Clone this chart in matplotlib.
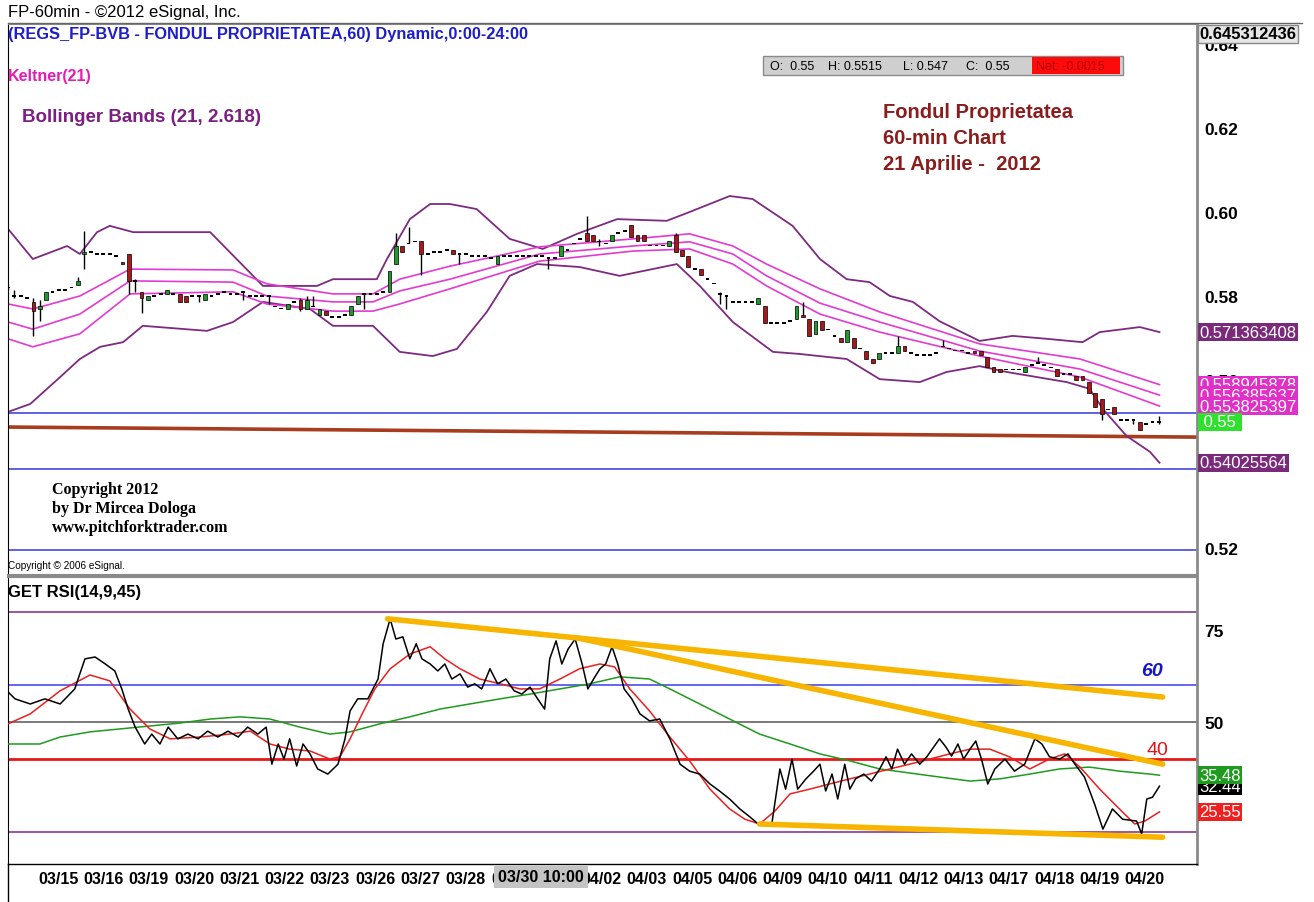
import numpy as np
import matplotlib
matplotlib.use('Agg')
import matplotlib.pyplot as plt
from matplotlib.patches import Rectangle
from matplotlib.lines import Line2D

plt.rcParams['font.family'] = ['Liberation Sans', 'DejaVu Sans']

# ---- hourly candles (bar 0 = 03/14 afternoon ... bar 181 = 04/20 close)
opens = [0.582, 0.580, 0.580, 0.5795, 0.5785, 0.577, 0.579, 0.581, 0.5815, 0.5815,
         0.582, 0.5825, 0.590, 0.5905, 0.590, 0.590, 0.590, 0.5895, 0.588, 0.590,
         0.5835, 0.581, 0.579, 0.580, 0.5805, 0.5805, 0.5805, 0.5805, 0.580, 0.580,
         0.580, 0.579, 0.580, 0.5805, 0.581, 0.5805, 0.5805, 0.581, 0.580, 0.580,
         0.580, 0.580, 0.5775, 0.577, 0.577, 0.5785, 0.579, 0.577, 0.5775, 0.5755,
         0.5765, 0.575, 0.575, 0.5755, 0.5755, 0.578, 0.5805, 0.5805, 0.5805, 0.581,
         0.581, 0.5875, 0.592, 0.5925, 0.593, 0.593, 0.590, 0.5905, 0.5905, 0.591,
         0.591, 0.590, 0.590, 0.5895, 0.5895, 0.5895, 0.589, 0.5875, 0.5895, 0.5895,
         0.5895, 0.5895, 0.5895, 0.5895, 0.5895, 0.589, 0.589, 0.5895, 0.591, 0.5925,
         0.5935, 0.595, 0.5945, 0.593, 0.5925, 0.593, 0.595, 0.5955, 0.597, 0.5945,
         0.5945, 0.592, 0.592, 0.592, 0.592, 0.5945, 0.591, 0.5895, 0.5865, 0.5865,
         0.584, 0.583, 0.5805, 0.580, 0.5785, 0.5785, 0.5785, 0.5785, 0.578, 0.5775,
         0.5735, 0.5735, 0.5735, 0.574, 0.5745, 0.5755, 0.5745, 0.571, 0.574, 0.572,
         0.5705, 0.570, 0.569, 0.570, 0.5675, 0.567, 0.565, 0.565, 0.5665, 0.5665,
         0.5665, 0.568, 0.5665, 0.566, 0.566, 0.566, 0.5665, 0.568, 0.5675, 0.567,
         0.567, 0.5665, 0.567, 0.567, 0.5655, 0.563, 0.5625, 0.5625, 0.5625, 0.5625,
         0.562, 0.5635, 0.564, 0.5635, 0.563, 0.5625, 0.5615, 0.5615, 0.561, 0.561,
         0.5595, 0.557, 0.5555, 0.553, 0.5535, 0.5505, 0.5505, 0.5505, 0.550, 0.5495,
         0.550, 0.550]
closes = [0.582, 0.580, 0.580, 0.5795, 0.5765, 0.5775, 0.581, 0.581, 0.5815, 0.5815,
          0.582, 0.5835, 0.5905, 0.5905, 0.590, 0.590, 0.590, 0.5895, 0.5875, 0.5835,
          0.5835, 0.5795, 0.580, 0.580, 0.5805, 0.5815, 0.5805, 0.5785, 0.5785, 0.580,
          0.580, 0.5805, 0.580, 0.5805, 0.581, 0.5805, 0.5805, 0.581, 0.580, 0.580,
          0.580, 0.580, 0.5775, 0.577, 0.578, 0.5785, 0.577, 0.579, 0.5775, 0.577,
          0.5755, 0.575, 0.575, 0.5755, 0.5775, 0.580, 0.5805, 0.5805, 0.5805, 0.581,
          0.586, 0.592, 0.5905, 0.5925, 0.593, 0.590, 0.590, 0.5905, 0.5905, 0.591,
          0.590, 0.590, 0.590, 0.5895, 0.5895, 0.5895, 0.589, 0.5895, 0.5895, 0.5895,
          0.5895, 0.5895, 0.5895, 0.5895, 0.5895, 0.589, 0.589, 0.592, 0.591, 0.5925,
          0.5935, 0.593, 0.593, 0.593, 0.5925, 0.5945, 0.595, 0.5955, 0.594, 0.593,
          0.593, 0.592, 0.592, 0.592, 0.593, 0.5905, 0.5895, 0.587, 0.5865, 0.585,
          0.584, 0.583, 0.5805, 0.580, 0.5785, 0.5785, 0.5785, 0.5785, 0.5795, 0.5735,
          0.5735, 0.5735, 0.5735, 0.574, 0.5775, 0.575, 0.5705, 0.574, 0.572, 0.572,
          0.5705, 0.569, 0.572, 0.5675, 0.5675, 0.565, 0.564, 0.5665, 0.5665, 0.5665,
          0.568, 0.567, 0.5665, 0.566, 0.566, 0.566, 0.5665, 0.568, 0.5675, 0.567,
          0.567, 0.5665, 0.5665, 0.566, 0.563, 0.562, 0.562, 0.5625, 0.5625, 0.5625,
          0.563, 0.5635, 0.564, 0.5635, 0.563, 0.561, 0.5615, 0.5615, 0.560, 0.560,
          0.557, 0.5535, 0.552, 0.553, 0.552, 0.5505, 0.5505, 0.5505, 0.548, 0.5495,
          0.550, 0.550]
# bars whose wick sticks out of the body: bar -> (high, low)
wicks = {0: (0.5825, 0.5815), 1: (0.5815, 0.5795), 4: (0.5795, 0.5705), 5: (0.579, 0.574),
         11: (0.5845, 0.5825), 12: (0.5955, 0.5865), 19: (0.590, 0.5805), 20: (0.584, 0.581),
         21: (0.581, 0.576), 30: (0.580, 0.5785), 37: (0.581, 0.579), 41: (0.580, 0.578),
         46: (0.5795, 0.5765), 47: (0.580, 0.577), 48: (0.580, 0.5775), 56: (0.5805, 0.577),
         61: (0.595, 0.5875), 63: (0.5965, 0.5925), 65: (0.593, 0.585), 71: (0.590, 0.5875),
         85: (0.589, 0.5865), 91: (0.599, 0.593), 93: (0.5935, 0.592), 105: (0.595, 0.5905),
         112: (0.581, 0.578), 113: (0.580, 0.577), 125: (0.5785, 0.575), 140: (0.5705, 0.5665),
         147: (0.5695, 0.568), 162: (0.5655, 0.564), 172: (0.5555, 0.5505), 177: (0.5505, 0.5495),
         181: (0.5515, 0.5495)}

# ---- Bollinger Bands (21, 2.618)
bb_up_x = [0, 3.9, 9.3, 11.3, 14.0, 16.0, 19.7, 31.8, 40.1, 48.6, 51.1, 58.0, 59.6, 63.2, 66.4,
           69.5, 73.7, 78.9, 84.1, 89.5, 95.8, 103.6, 107.2, 113.5, 117.1, 123.4, 127.7, 131.9,
           135.5, 138.7, 142.3, 146.5, 152.8, 158.0, 163.4, 169.0, 171.7, 178.0, 181.1]
bb_upper = [0.5960, 0.5888, 0.5919, 0.5900, 0.5952, 0.5967, 0.5952, 0.5952, 0.5824, 0.5824,
            0.5840, 0.5840, 0.5888, 0.5983, 0.6019, 0.6019, 0.6007, 0.5936, 0.5912, 0.5948,
            0.5983, 0.5979, 0.6000, 0.6038, 0.6031, 0.5967, 0.5888, 0.5840, 0.5833, 0.5800,
            0.5786, 0.5740, 0.5693, 0.5705, 0.5698, 0.5690, 0.5714, 0.5726, 0.5714]
bb_lo_x = [0, 3.5, 8.2, 11.3, 14.5, 18.1, 21.2, 31.3, 35.4, 40.1, 47.5, 51.1, 57.4, 61.6, 66.8,
           70.6, 75.3, 78.9, 83.2, 89.9, 96.2, 105.2, 108.8, 114.0, 120.3, 124.5, 131.9, 137.1,
           143.4, 147.6, 152.8, 157.1, 166.5, 170.1, 172.2, 175.9, 179.6, 181.1]
bb_lower = [0.5524, 0.5543, 0.5607, 0.5650, 0.5679, 0.5690, 0.5729, 0.5717, 0.5738, 0.5786,
            0.5769, 0.5729, 0.5729, 0.5667, 0.5657, 0.5674, 0.5762, 0.5848, 0.5876, 0.5869,
            0.5848, 0.5876, 0.5824, 0.5738, 0.5667, 0.5662, 0.5650, 0.5602, 0.5595, 0.5619,
            0.5633, 0.5619, 0.5595, 0.5579, 0.5531, 0.5467, 0.5429, 0.5403]

# ---- Keltner(21)
kc_x = [0, 3.9, 11.3, 19.2, 35.4, 40.7, 51.1, 57.4, 61.6, 69.5, 83.6, 98.3, 107.2, 114.0,
        119.3, 127.7, 137.1, 152.8, 168.6, 181.1]
kc_upper = [0.5781, 0.5769, 0.5800, 0.5864, 0.5862, 0.5829, 0.5805, 0.5805, 0.5840, 0.5871,
            0.5917, 0.5936, 0.5948, 0.5919, 0.5876, 0.5817, 0.5762, 0.5686, 0.5650, 0.5589]
kc_mid = [0.5738, 0.5721, 0.5757, 0.5836, 0.5833, 0.5800, 0.5786, 0.5786, 0.5812, 0.5840,
          0.5900, 0.5919, 0.5929, 0.5900, 0.5848, 0.5783, 0.5738, 0.5669, 0.5626, 0.5564]
kc_lower = [0.5698, 0.5679, 0.5710, 0.5805, 0.5810, 0.5781, 0.5764, 0.5764, 0.5781, 0.5817,
            0.5883, 0.5907, 0.5912, 0.5876, 0.5824, 0.5757, 0.5714, 0.5657, 0.5607, 0.5538]

blue_levels = [0.5521, 0.5388, 0.5195]
brown_line = ([0, 187], [0.5488, 0.5464])

# ---- GET RSI(14,9,45)
rsi_x = [0, 1.1, 3.5, 5.8, 8.2, 10.5, 12.1, 13.7, 15.3, 16.8,
         17.9, 18.9, 20.0, 21.5, 22.6, 23.9, 25.2, 26.7, 28.3, 29.9,
         31.4, 33.0, 34.6, 36.2, 37.7, 39.3, 40.6, 41.5, 42.5, 43.4,
         44.3, 45.4, 46.4, 47.5, 48.7, 50.3, 51.9, 53.0, 53.8, 55.0,
         56.6, 58.2, 59.0, 60.1, 61.0, 62.1, 63.2, 64.2, 65.1, 66.4,
         67.6, 68.7, 69.8, 71.1, 72.3, 73.4, 74.5, 75.8, 77.0, 78.3,
         79.6, 80.8, 82.1, 83.3, 84.4, 85.2, 86.2, 87.1, 88.1, 89.2,
         90.3, 91.2, 92.1, 93.1, 94.0, 95.0, 95.9, 96.9, 98.1, 99.4,
         100.9, 102.5, 104.1, 105.7, 107.2, 108.8, 110.4, 111.9, 113.5, 115.1,
         116.7, 118.2, 120.1, 121.4, 122.3, 123.3, 124.2, 125.5, 126.7, 127.7,
         128.6, 129.6, 130.5, 131.6, 132.4, 133.3, 134.6, 135.8, 137.1, 138.1,
         139.0, 139.9, 141.0, 142.1, 143.4, 144.5, 145.6, 146.5, 147.5, 148.4,
         149.4, 150.3, 151.3, 152.2, 153.1, 154.1, 155.2, 156.8, 158.3, 159.9,
         161.5, 162.6, 163.8, 165.4, 166.7, 167.8, 169.3, 170.9, 172.2, 173.7,
         175.3, 177.5, 178.3, 179.1, 180.0, 181.1]
rsi_vals = [58.2, 56.3, 54.9, 56.3, 54.9, 59.0, 67.2, 67.7, 65.8, 63.9,
            59.0, 53.5, 48.6, 44.0, 46.7, 44.0, 48.6, 45.4, 46.7, 45.4,
            47.5, 45.9, 47.5, 45.9, 48.6, 46.7, 48.6, 38.5, 44.0, 39.9,
            45.4, 38.0, 44.0, 41.3, 37.2, 35.8, 38.5, 45.4, 53.0, 56.3,
            56.3, 61.7, 71.3, 78.1, 72.6, 73.2, 67.2, 71.3, 67.2, 65.8,
            63.9, 65.8, 61.7, 63.1, 59.5, 60.4, 59.0, 64.5, 60.4, 61.7,
            58.5, 57.6, 59.5, 56.3, 53.5, 67.2, 72.1, 65.8, 69.9, 72.6,
            65.8, 59.0, 61.7, 64.5, 65.8, 70.5, 65.8, 59.0, 56.3, 52.2,
            50.3, 50.8, 45.4, 38.5, 36.6, 35.8, 33.1, 31.2, 29.0, 26.3,
            24.1, 21.9, 21.9, 37.2, 31.7, 39.9, 31.7, 34.5, 36.6, 38.5,
            31.2, 35.8, 29.0, 38.5, 31.7, 34.5, 35.8, 33.9, 37.2, 40.5,
            37.2, 42.6, 38.5, 41.3, 38.5, 40.5, 43.2, 45.4, 43.2, 40.7,
            44.0, 39.9, 42.6, 44.8, 39.9, 33.1, 37.2, 39.9, 36.6, 38.5,
            45.4, 44.0, 40.5, 39.9, 41.3, 38.5, 35.0, 27.6, 20.8, 26.3,
            23.5, 23.0, 19.5, 29.0, 29.5, 32.5]
sig_x = [0, 3.5, 8.2, 12.9, 16.0, 19.2, 22.3, 25.5, 30.2, 34.9,
         38.1, 41.2, 44.3, 47.5, 50.6, 52.2, 53.8, 55.7, 57.7, 60.1,
         63.2, 66.4, 68.7, 71.1, 74.2, 77.4, 80.5, 83.6, 86.8, 89.9,
         93.1, 95.4, 97.8, 100.9, 104.1, 107.2, 110.4, 113.5, 115.9, 118.2,
         120.6, 123.0, 126.1, 129.2, 132.4, 135.5, 138.7, 141.8, 145.0, 148.1,
         151.3, 154.4, 157.5, 160.7, 163.8, 166.2, 168.6, 171.7, 174.8, 177.2,
         178.8, 181.1]
sig_vals = [49.5, 52.2, 58.5, 62.8, 61.2, 53.5, 48.1, 45.4, 45.9, 46.7,
            47.5, 44.0, 42.6, 42.1, 39.9, 40.5, 45.4, 52.2, 59.0, 64.5,
            68.5, 70.5, 67.2, 64.5, 61.7, 60.4, 59.0, 59.0, 61.7, 64.5,
            65.8, 65.0, 59.0, 53.0, 45.9, 39.4, 31.7, 26.3, 23.5, 22.2,
            25.7, 30.4, 31.7, 33.1, 34.5, 35.8, 37.2, 38.5, 39.9, 41.3,
            42.6, 42.6, 40.5, 37.2, 39.9, 41.3, 37.7, 31.7, 26.3, 22.2,
            23.0, 25.5]
ma_x = [0, 5.0, 8.2, 12.9, 17.6, 22.3, 27.0, 31.8, 36.5, 41.2,
        45.9, 50.6, 53.8, 58.5, 63.2, 67.9, 72.6, 77.4, 82.1, 86.8,
        91.5, 96.2, 100.9, 104.1, 108.8, 113.5, 118.2, 123.0, 127.7, 132.4,
        137.1, 141.8, 146.5, 151.3, 156.0, 160.7, 165.4, 170.1, 174.8, 179.6,
        181.1]
ma_vals = [44.0, 44.0, 45.9, 47.3, 48.1, 48.9, 49.7, 50.8, 51.4, 50.8,
           48.6, 46.7, 47.3, 49.5, 51.4, 53.5, 54.9, 56.3, 57.6, 59.0,
           60.4, 62.3, 61.7, 59.0, 54.9, 50.8, 46.7, 44.0, 41.3, 39.4,
           37.2, 36.1, 35.0, 33.9, 34.5, 35.8, 37.2, 37.7, 36.6, 35.8,
           35.5]
trend_x = [[59.7, 181.6], [89.6, 181.6], [118.2, 181.6]]
trend_y = [[78.1, 56.8], [72.9, 38.5], [22.2, 18.6]]

day_labels = ['03/15', '03/16', '03/19', '03/20', '03/21', '03/22', '03/23', '03/26',
              '03/27', '03/28', '03/29', '03/30', '04/02', '04/03', '04/05', '04/06',
              '04/09', '04/10', '04/11', '04/12', '04/13', '04/17', '04/18', '04/19', '04/20']

# ---------------------------------------------------------------- figure
W, H = 1314, 903
fig = plt.figure(figsize=(W / 100, H / 100), dpi=100)


def fx(px):
    return px / W


def fy(py):
    return 1 - py / H


PURPLE = '#7d2a80'
PINK = '#e23ad2'

ax1 = fig.add_axes([fx(8), fy(576), (1197 - 8) / W, (576 - 25) / H])
ax2 = fig.add_axes([fx(8), fy(865), (1197 - 8) / W, (865 - 578) / H])
for ax in (ax1, ax2):
    ax.set_xlim(0, 187)
    ax.yaxis.tick_right()
    ax.spines['left'].set_color('black')
    ax.spines['right'].set_color('#8a8a8a')
    ax.spines['right'].set_linewidth(2)
    ax.spines['top'].set_color('#8a8a8a')
    ax.spines['bottom'].set_color('#8a8a8a')
    ax.spines['bottom'].set_linewidth(1.5)
    ax.tick_params(axis='y', length=0, pad=5, labelsize=12.5)
ax1.set_ylim(0.51357, 0.64476)
ax2.set_ylim(11.3, 89.5)
ax2.spines['top'].set_linewidth(1.5)
ax2.spines['bottom'].set_color('black')
ax2.spines['bottom'].set_linewidth(1)

# price panel
ax1.set_xticks([])
ax1.set_yticks([0.52, 0.54, 0.56, 0.58, 0.60, 0.62, 0.64])
ax1.set_yticklabels(['0.52', '0.54', '0.56', '0.58', '0.60', '0.62', '0.64'], fontweight='bold')

for lv in blue_levels:
    ax1.axhline(lv, color='#3535e0', lw=1.1, zorder=2)
ax1.plot(brown_line[0], brown_line[1], color='#a83c1e', lw=2.6, zorder=2)

ax1.plot(bb_up_x, bb_upper, color=PURPLE, lw=1.3, zorder=2)
ax1.plot(bb_lo_x, bb_lower, color=PURPLE, lw=1.3, zorder=2)
for kc in (kc_upper, kc_mid, kc_lower):
    ax1.plot(kc_x, kc, color=PINK, lw=1.2, zorder=2)

xs = np.arange(len(opens))
o = np.array(opens)
c = np.array(closes)
hi = np.maximum(o, c)
lo = np.minimum(o, c)
for i, (h, l) in wicks.items():
    hi[i], lo[i] = h, l
ax1.vlines(xs, lo, hi, color='black', lw=1, zorder=3)
flat = np.isclose(o, c)
up = (c > o) & ~flat
dn = (c < o) & ~flat
ax1.bar(xs[up], (c - o)[up], bottom=o[up], width=0.6, color='#1f9a2a',
        edgecolor='black', lw=0.5, zorder=4)
ax1.bar(xs[dn], (o - c)[dn], bottom=c[dn], width=0.6, color='#a8181a',
        edgecolor='black', lw=0.5, zorder=4)
ax1.bar(xs[flat], 0.0004, bottom=o[flat] - 0.0002, width=0.6, color='black', zorder=4)


def tag(ax, y, s, fc, tc='white', weight='normal', ec='none'):
    ax.text(1.002, y, s, transform=ax.get_yaxis_transform(), ha='left', va='center',
            fontsize=12, color=tc, fontweight=weight, clip_on=False, zorder=10,
            bbox=dict(boxstyle='square,pad=0.08', fc=fc, ec=ec))


tag(ax1, 0.6424, '0.645312436', '#e6e6e6', 'black', 'bold', '#888888')
tag(ax1, bb_upper[-1], '0.571363408', '#7b2a7b')
tag(ax1, kc_upper[-1], '0.558945878', '#e030c8')
tag(ax1, kc_mid[-1], '0.556385637', '#e030c8')
tag(ax1, kc_lower[-1], '0.553825397', '#e030c8')
tag(ax1, closes[-1], ' 0.55 ', '#2fe02f')
tag(ax1, bb_lower[-1], '0.54025564', '#7b2a7b')

# RSI panel
ax2.axhline(80, color='#8b3a8b', lw=1.2, zorder=2)
ax2.axhline(20, color='#8b3a8b', lw=1.2, zorder=2)
ax2.axhline(60, color='#3a3af0', lw=1.1, zorder=2)
ax2.axhline(50, color='#555555', lw=1.1, zorder=2)
ax2.axhline(40, color='#e81818', lw=2, zorder=2)
ax2.plot(ma_x, ma_vals, color='#1e9a1e', lw=1.1, zorder=3)
ax2.plot(sig_x, sig_vals, color='#e82020', lw=1.1, zorder=3)
ax2.plot(rsi_x, rsi_vals, color='black', lw=1.1, zorder=4)
for tx, ty in zip(trend_x, trend_y):
    ax2.plot(tx, ty, color='#f7b500', lw=4, solid_capstyle='round', zorder=5)
ax2.set_yticks([50, 75])
ax2.set_yticklabels(['50', '75'], fontweight='bold')
tag(ax2, 32.44, '32.44', 'black')
tag(ax2, 35.48, '35.48', '#1e9a1e')
tag(ax2, 25.55, '25.55', '#ee2020')
ax2.text(179.9, 63.9, '60', color='#1414c8', fontsize=14, fontweight='bold',
         fontstyle='italic', ha='center', va='center', zorder=6)
ax2.text(180.7, 42.6, '40', color='#e01414', fontsize=14, ha='center', va='center', zorder=6)

day_pos = 7.9 + 7.12 * np.arange(len(day_labels))
ax2.set_xticks(day_pos)
ax2.set_xticklabels(day_labels, fontweight='bold', fontsize=11.5)
ax2.tick_params(axis='x', length=0, pad=5)
fig.text(fx(541), fy(878), '03/30 10:00', ha='center', va='center', fontsize=11.5,
         fontweight='bold', zorder=20,
         bbox=dict(boxstyle='square,pad=0.25', fc='#c4c4c4', ec='none'))

# header texts
fig.text(fx(8), fy(12), 'FP-60min - ©2012 eSignal, Inc.', fontsize=12, va='center')
fig.text(fx(8), fy(35), '(REGS_FP-BVB - FONDUL PROPRIETATEA,60) Dynamic,0:00-24:00',
         fontsize=11.8, fontweight='bold', color='#1e1ec8', va='center')
fig.text(fx(8), fy(77), 'Keltner(21)', fontsize=11.5, fontweight='bold', color='#e41cb0',
         va='center')
fig.text(fx(22), fy(117), 'Bollinger Bands (21, 2.618)', fontsize=13.5, fontweight='bold',
         color='#7b1f80', va='center')
for k, line in enumerate(['Fondul Proprietatea', '60-min Chart', '21 Aprilie -  2012']):
    fig.text(fx(883), fy(113 + 26 * k), line, fontsize=14.5, fontweight='bold',
             color='#8b1c1c', va='center')
for k, line in enumerate(['Copyright 2012', 'by Dr Mircea Dologa', 'www.pitchforktrader.com']):
    fig.text(fx(52), fy(490 + 19 * k), line, fontsize=11.5, fontweight='bold',
             family='Liberation Serif', va='center')
fig.text(fx(8), fy(566), 'Copyright © 2006 eSignal.', fontsize=7.2, va='center')
fig.text(fx(8), fy(592), 'GET RSI(14,9,45)', fontsize=12, fontweight='bold', va='center')

# OHLC info box
fig.add_artist(Rectangle((fx(763), fy(76)), (1123 - 763) / W, 19 / H, transform=fig.transFigure,
                         fc='#cfcfcf', ec='#8a8a8a', lw=1))
fig.add_artist(Rectangle((fx(1032), fy(75)), (1120 - 1032) / W, 17 / H,
                         transform=fig.transFigure, fc='#ff0a0a', ec='none'))
for px, s in [(770, 'O:  0.55'), (828, 'H: 0.5515'), (903, 'L: 0.547'), (966, 'C:  0.55')]:
    fig.text(fx(px), fy(66.5), s, fontsize=9, va='center')
fig.text(fx(1036), fy(66.5), 'Net: -0.0015', fontsize=9, va='center', color='#b00000')

# frame lines
fig.add_artist(Line2D([fx(8), fx(1302)], [fy(24), fy(24)], color='#666666', lw=1))
fig.add_artist(Line2D([fx(8), fx(8)], [fy(865), fy(903)], color='black', lw=1))

fig.savefig('out.png', dpi=100)
